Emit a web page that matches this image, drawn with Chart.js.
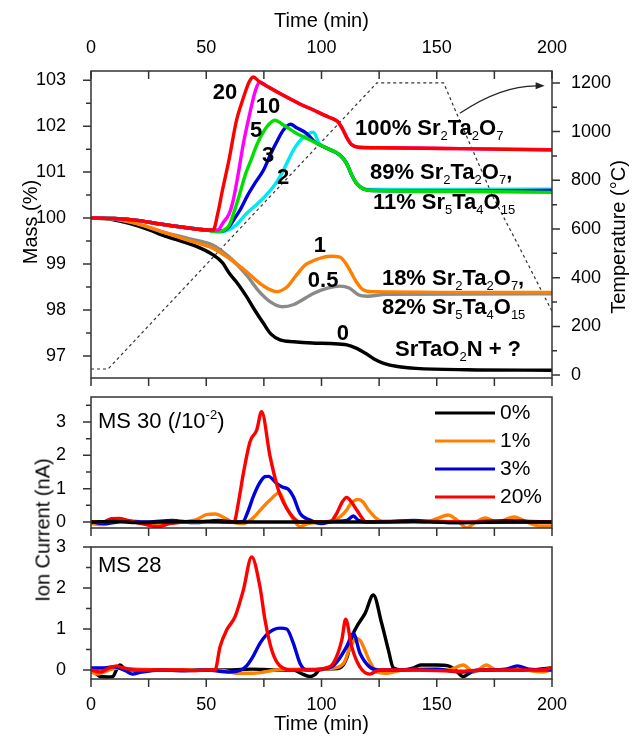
<!DOCTYPE html>
<html>
<head>
<meta charset="utf-8">
<script src="https://cdn.jsdelivr.net/npm/chart.js"></script>
<style>
body { margin: 0; background: #fff; }
#wrap { position: relative; width: 632px; height: 736px; font-family: "Liberation Sans", Arial, sans-serif; }
canvas { position: absolute; left: 0; }
#ion { position: absolute; left: 43px; top: 530px; transform: translate(-50%, -50%) rotate(-90deg); font-size: 20px; white-space: nowrap; }
</style>
</head>
<body>
<div id="wrap">
  <canvas id="c1" width="632" height="388" style="top:0"></canvas>
  <canvas id="c2" width="632" height="150" style="top:388px"></canvas>
  <canvas id="c3" width="632" height="198" style="top:538px"></canvas>
  <div id="ion">Ion Current (nA)</div>
</div>
<script>
const FONT = '"Liberation Sans", Arial, sans-serif';
Chart.defaults.font.family = FONT;
Chart.defaults.color = '#000';

// ---- TG mass curves, [time (min), mass (%)] ----
const mass20 = [[0,100],[10,99.99],[20,99.95],[30,99.87],[40,99.8],[50,99.74],[53,99.74],[55,100.1],[57,100.6],[60,101.3],[63,102.1],[66,102.6],[68.5,102.95],[70.4,103.07],[73,102.97],[77,102.85],[82,102.71],[90,102.5],[96.5,102.35],[103,102.2],[107,102.1],[109,101.95],[111,101.75],[113,101.6],[116,101.54],[125,101.53],[160,101.51],[200,101.48]];
const mass10 = [[0,100],[10,99.99],[20,99.95],[30,99.87],[40,99.8],[50,99.74],[55,99.74],[57.3,99.9],[60,100.1],[61.7,100.39],[64,101.0],[66.1,101.62],[69,102.3],[71.5,102.8],[73.3,102.96],[76,102.88],[82,102.71],[90,102.5],[96.5,102.35],[103,102.2],[107,102.1],[109,101.95],[111,101.75],[113,101.6],[116,101.54],[125,101.53],[160,101.51],[200,101.49]];
const mass5 = [[0,100],[10,99.99],[20,99.95],[30,99.87],[40,99.8],[50,99.74],[55,99.7],[57,99.72],[60,99.85],[62.5,100.2],[64.6,100.54],[67,100.95],[69.4,101.26],[72,101.6],[76.2,101.98],[79.8,102.13],[83,102.04],[89.2,101.84],[95,101.7],[101,101.55],[108,101.37],[110.9,101.19],[113,100.95],[115.3,100.75],[118,100.64],[122,100.6],[160,100.58],[200,100.56]];
const mass3 = [[0,100],[10,99.99],[20,99.95],[30,99.87],[40,99.8],[50,99.74],[57,99.72],[60,99.82],[62,99.97],[64.6,100.17],[68,100.5],[71,100.75],[74.8,101.04],[78,101.4],[81,101.7],[83.4,101.91],[86.6,102.04],[89,101.97],[93.6,101.84],[97,101.66],[101,101.55],[108,101.37],[110.9,101.19],[113,100.95],[115.3,100.75],[118,100.64],[122,100.6],[160,100.59],[200,100.6]];
const mass2 = [[0,100],[10,99.99],[20,99.95],[30,99.87],[40,99.8],[50,99.74],[57,99.7],[60,99.75],[63,99.85],[67.5,100.1],[72,100.3],[76,100.5],[79.1,100.68],[82,100.9],[85,101.2],[87.8,101.48],[91,101.7],[96.5,101.87],[99,101.62],[101,101.55],[108,101.37],[110.9,101.19],[113,100.95],[115.3,100.75],[118,100.65],[122,100.62],[160,100.62],[200,100.63]];
const mass1 = [[0,100],[10,99.98],[20,99.88],[31,99.7],[42,99.52],[53,99.34],[60,99.12],[67.5,98.83],[74,98.55],[80.5,98.4],[85,98.5],[89,98.75],[93,98.98],[99,99.12],[104,99.17],[108,99.15],[111,98.98],[115,98.62],[118,98.44],[122,98.4],[200,98.38]];
const mass05 = [[0,100],[10,99.98],[20,99.88],[31,99.7],[42,99.56],[53,99.41],[60,99.15],[67.5,98.76],[73,98.4],[78,98.17],[83,98.07],[88,98.12],[96.5,98.36],[103,98.48],[108,98.52],[112,98.48],[116,98.33],[120,98.3],[128,98.34],[200,98.35]];
const mass0 = [[0,100],[8,99.98],[17,99.88],[25,99.75],[31,99.63],[40,99.48],[46,99.38],[53,99.2],[57,99.03],[60,98.8],[64,98.55],[67.5,98.29],[71,98.0],[74.8,97.71],[78,97.48],[82,97.35],[88,97.31],[96,97.28],[104,97.27],[111,97.24],[115,97.17],[119,97.06],[123,96.93],[127,96.84],[133,96.77],[141,96.73],[163,96.7],[200,96.69]];
// temperature programme, [time (min), T (°C)]
const tempProfile = [[0,25],[7.4,25],[124,1200],[153,1200],[158.6,1075],[174.5,730],[185,540],[200,262]];

// ---- MS 30 (/10^-2), [time, nA] ----
const ms30_0 = [[0,0],[10,0.02],[20,-0.02],[30,0],[50,0.02],[60,0],[80,0],[100,0],[120,0],[140,0.01],[160,-0.02],[180,0],[200,0]];
const ms30_1 = [[0,-0.05],[5,-0.08],[12,0.05],[20,0.02],[30,-0.05],[40,0],[46,0.08],[50,0.22],[54,0.24],[58,0.12],[62,-0.02],[66,-0.05],[70,0.1],[74.8,0.46],[78,0.68],[81.7,0.88],[84.6,0.46],[88.2,0.03],[90.7,-0.14],[94,-0.05],[100,0],[105,0.05],[108,0.15],[110.9,0.36],[113,0.58],[116,0.68],[118,0.6],[120.4,0.36],[124.7,0.06],[128,0],[135,0.02],[145,0],[150,0.1],[155,0.21],[158,0.1],[163,-0.17],[167,0],[171,0.12],[176,0],[183.6,0.15],[189,0],[195,-0.12],[200,-0.12]];
const ms30_3 = [[0,0.02],[5,-0.05],[15,0.02],[25,0],[35,0.05],[45,-0.02],[55,0.05],[62,0],[66,0.02],[68,0.3],[70.4,0.76],[73,1.15],[75.5,1.36],[77,1.37],[80.5,1.16],[83,1.05],[85.6,0.98],[87.8,0.76],[90.7,0.26],[95,0.06],[100,-0.05],[105,0.02],[111,0.05],[113.8,0.18],[116,0.05],[120,0],[130,0.02],[140,0.05],[150,0],[160,-0.02],[170,0.02],[180,0.04],[190,0.02],[200,0]];
const ms30_20 = [[0,0],[5,0],[9,0.1],[12,0.11],[16,0.05],[22,-0.05],[29,-0.14],[34,-0.05],[40,0],[50,0],[58,0],[62,0],[64,0.6],[66.1,1.46],[69,2.41],[71.9,2.76],[74,3.31],[77.7,1.96],[81.3,0.96],[86.3,0.26],[90.7,0],[100,0],[104,0.02],[106.6,0.26],[109,0.6],[110.9,0.74],[113,0.6],[115.3,0.36],[119.6,0],[130,0],[150,0.02],[170,0],[200,0]];

// ---- MS 28, [time, nA] ----
const ms28_0 = [[0,0],[2,-0.08],[4,-0.16],[7,-0.17],[9.5,-0.16],[11,0],[12.6,0.12],[15,0.02],[20,0],[30,0],[40,0],[50,0],[60,0],[70,0.02],[80,0],[88,0],[91,-0.08],[95,-0.16],[97,-0.12],[99.2,0],[105,0.03],[108,0.05],[111,0.3],[113.5,0.85],[115.3,1.06],[118.9,1.38],[122.5,1.83],[126.1,1.14],[129,0.49],[131.2,0.05],[135,0],[140,0.05],[143,0.12],[150,0.12],[155,0.1],[158,0],[161.5,-0.16],[165,-0.05],[170,0],[180,0],[190,0],[200,0.05]];
const ms28_1 = [[0,-0.05],[3,-0.1],[8,0],[12,0.05],[20,0.02],[30,0],[40,0],[50,0],[58,-0.02],[63,-0.08],[70,-0.08],[75,-0.05],[80,0],[90,0.02],[100,0.02],[106,0.05],[110,0.2],[112,0.5],[115.3,0.77],[117,0.7],[121,0.2],[124,-0.05],[128,-0.08],[135,0],[145,0.02],[155,0],[161.5,0.12],[166,-0.05],[171.6,0.12],[176,0],[185,0.02],[196,-0.05],[200,0.02]];
const ms28_3 = [[0,0.05],[5,0.05],[10,0.08],[15,-0.02],[18,-0.1],[22,-0.05],[30,0],[40,-0.02],[50,0],[60,-0.05],[65,0],[67.5,0.1],[70,0.3],[73.3,0.65],[76,0.85],[79.1,0.98],[82,1.02],[84.9,1.0],[87.8,0.65],[90.7,0.16],[93.6,0],[100,0.02],[105,0.1],[108,0.3],[110.9,0.57],[113.8,0.89],[116.7,0.41],[121,0.07],[125,0],[135,0],[150,0.02],[160,-0.05],[170,0],[180,0.02],[185,0.1],[190,0.02],[200,0]];
const ms28_20 = [[0,0],[4,-0.05],[8,0.05],[11.1,0.1],[14,0.05],[20,0],[30,0],[40,0],[45,-0.02],[50,0],[53.8,0],[56,0.57],[58.9,0.98],[62.5,1.3],[66.1,1.95],[69.7,2.76],[73.3,2.03],[75.5,1.22],[78.4,0.49],[82,0.1],[87.8,0],[95,0],[102,0.05],[105.1,0.16],[108.8,0.73],[110.5,1.24],[113.1,0.57],[116.7,0.07],[121,-0.1],[125,0],[140,0],[160,-0.03],[170,0],[180,0],[195,0],[200,0.05]];

const pctLabels = ['0%', '1%', '3%', '20%'];
const pctColors = ['#000000', '#ff8000', '#0000dd', '#ff0000'];
const timeTicks = [0, 50, 100, 150, 200];
const massTicks = [97, 98, 99, 100, 101, 102, 103];
const tempTicks = [0, 200, 400, 600, 800, 1000, 1200];
const ms30Ticks = [0, 1, 2, 3];
const ms28Ticks = [0, 1, 2, 3];

const pts = arr => arr.map(([x, y]) => ({ x, y }));
const line = (arr, color, extra) => Object.assign({
  data: pts(arr), borderColor: color, borderWidth: 3.4, pointRadius: 0,
  cubicInterpolationMode: 'monotone', fill: false
}, extra || {});
const fixTicks = vals => s => { s.ticks = vals.map(v => ({ value: v })); };
const plain = v => String(v);
// fixed axis box sizes, no label overhang padding
const fitW = w => s => { s.width = w; s.paddingTop = 0; s.paddingBottom = 0; };
const fitH = h => s => { s.height = h; s.paddingLeft = 0; s.paddingRight = 0; };

function frame(chart) {
  const { ctx, chartArea: a } = chart;
  ctx.save();
  ctx.strokeStyle = '#333'; ctx.lineWidth = 1.5;
  ctx.strokeRect(a.left, a.top, a.right - a.left, a.bottom - a.top);
  ctx.restore();
}

function marks(chart, id, edge, step, majorStep, lo, hi, inward) {
  const s = chart.scales[id], a = chart.chartArea, ctx = chart.ctx;
  const d = inward ? -1 : 1;
  ctx.save();
  ctx.strokeStyle = '#333'; ctx.lineWidth = 1.5;
  ctx.beginPath();
  for (let v = lo; v <= hi + 1e-9; v += step) {
    const r = v / majorStep;
    const len = Math.abs(r - Math.round(r)) < 1e-6 ? 8 : 5;
    const p = s.getPixelForValue(v);
    if (edge === 'left') { ctx.moveTo(a.left, p); ctx.lineTo(a.left - d * len, p); }
    if (edge === 'right') { ctx.moveTo(a.right, p); ctx.lineTo(a.right + d * len, p); }
    if (edge === 'top') { ctx.moveTo(p, a.top); ctx.lineTo(p, a.top - d * len); }
    if (edge === 'bottom') { ctx.moveTo(p, a.bottom); ctx.lineTo(p, a.bottom + d * len); }
  }
  ctx.stroke();
  ctx.restore();
}

// parts: plain strings, '_x' subscript, '^x' superscript
function rich(ctx, parts, x, y, size, weight, align) {
  const fontFor = p => (p[0] === '_' || p[0] === '^')
    ? Math.round(size * 0.6) + 'px ' + FONT
    : weight + ' ' + size + 'px ' + FONT;
  const txt = p => (p[0] === '_' || p[0] === '^') ? p.slice(1) : p;
  let w = 0;
  for (const p of parts) { ctx.font = fontFor(p); w += ctx.measureText(txt(p)).width; }
  let cx = align === 'center' ? x - w / 2 : x;
  ctx.textAlign = 'left'; ctx.textBaseline = 'middle'; ctx.fillStyle = '#000';
  for (const p of parts) {
    ctx.font = fontFor(p);
    const dy = p[0] === '_' ? size * 0.34 : p[0] === '^' ? -size * 0.32 : 0;
    ctx.fillText(txt(p), cx, y + dy);
    cx += ctx.measureText(txt(p)).width;
  }
}

function titleText(ctx, text, x, y, rot, size) {
  ctx.save();
  ctx.translate(x, y); ctx.rotate(rot);
  ctx.font = (size || 20) + 'px ' + FONT;
  ctx.fillStyle = '#000'; ctx.textAlign = 'center'; ctx.textBaseline = 'middle';
  ctx.fillText(text, 0, 0);
  ctx.restore();
}

const tickFont = { size: 18 };

// ---------------- top panel ----------------
const massNotes = [
  { t: 58.1, m: 102.72, parts: ['20'], align: 'center' },
  { t: 76.8, m: 102.41, parts: ['10'], align: 'center' },
  { t: 71.6, m: 101.89, parts: ['5'], align: 'center' },
  { t: 76.8, m: 101.35, parts: ['3'], align: 'center' },
  { t: 83.3, m: 100.87, parts: ['2'], align: 'center' },
  { t: 99.3, m: 99.39, parts: ['1'], align: 'center' },
  { t: 100.7, m: 98.63, parts: ['0.5'], align: 'center' },
  { t: 109.3, m: 97.48, parts: ['0'], align: 'center' },
  { t: 114.5, m: 101.93, parts: ['100% Sr', '_2', 'Ta', '_2', 'O', '_7'], align: 'left' },
  { t: 121.0, m: 100.98, parts: ['89% Sr', '_2', 'Ta', '_2', 'O', '_7', ','], align: 'left' },
  { t: 122.3, m: 100.33, parts: ['11% Sr', '_5', 'Ta', '_4', 'O', '_15'], align: 'left' },
  { t: 126.2, m: 98.67, parts: ['18% Sr', '_2', 'Ta', '_2', 'O', '_7', ','], align: 'left' },
  { t: 126.2, m: 98.04, parts: ['82% Sr', '_5', 'Ta', '_4', 'O', '_15'], align: 'left' },
  { t: 131.9, m: 97.13, parts: ['SrTaO', '_2', 'N + ?'], align: 'left' }
];

new Chart(document.getElementById('c1'), {
  type: 'line',
  data: {
    datasets: [
      line(mass20, '#ff0000'),
      line(mass10, '#ff00ff'),
      line(mass5, '#00e000'),
      line(mass3, '#0000dd'),
      line(mass2, '#00e8f0'),
      line(mass1, '#ff8000'),
      line(mass05, '#8a8a8a'),
      line(mass0, '#000000'),
      line(tempProfile, '#333', { yAxisID: 'yT', borderWidth: 1.2, borderDash: [3, 3], cubicInterpolationMode: 'default', tension: 0 })
    ]
  },
  options: {
    responsive: false, animation: false,
    layout: { padding: 0 },
    plugins: { legend: { display: false }, tooltip: { enabled: false } },
    scales: {
      x: {
        type: 'linear', position: 'top', min: 0, max: 200,
        grid: { display: false }, border: { display: false },
        ticks: { padding: 4, font: tickFont, maxRotation: 0, callback: plain },
        afterBuildTicks: fixTicks(timeTicks), afterFit: fitH(71)
      },
      xb: {
        type: 'linear', position: 'bottom', min: 0, max: 200,
        grid: { display: false }, border: { display: false }, ticks: { display: false },
        afterFit: fitH(10)
      },
      y: {
        position: 'left', min: 96.52, max: 103.2,
        grid: { display: false }, border: { display: false },
        ticks: { padding: 17, font: tickFont, callback: plain },
        afterBuildTicks: fixTicks(massTicks), afterFit: fitW(91)
      },
      yT: {
        position: 'right', min: -12, max: 1249,
        grid: { display: false }, border: { display: false },
        ticks: { padding: 11, font: tickFont, callback: plain },
        afterBuildTicks: fixTicks(tempTicks), afterFit: fitW(80)
      }
    }
  },
  plugins: [{
    id: 'topDeco',
    afterDraw(chart) {
      const ctx = chart.ctx, xs = chart.scales.x, ys = chart.scales.y, ts = chart.scales.yT, a = chart.chartArea;
      frame(chart);
      marks(chart, 'x', 'top', 25, 25, 0, 200, true);
      marks(chart, 'x', 'bottom', 25, 25, 0, 200, false);
      marks(chart, 'y', 'left', 0.5, 1, 97, 103, false);
      marks(chart, 'yT', 'right', 100, 200, 0, 1200, false);
      for (const n of massNotes) {
        rich(ctx, n.parts, xs.getPixelForValue(n.t), ys.getPixelForValue(n.m), 22, 'bold', n.align);
      }
      // curved arrow pointing to the temperature axis
      const x0 = xs.getPixelForValue(160), y0 = ts.getPixelForValue(1075);
      const xc = xs.getPixelForValue(178), yc = ts.getPixelForValue(1190);
      const x1 = xs.getPixelForValue(195.5), y1 = ts.getPixelForValue(1188);
      ctx.save();
      ctx.strokeStyle = '#222'; ctx.fillStyle = '#222'; ctx.lineWidth = 1.2;
      ctx.beginPath(); ctx.moveTo(x0, y0); ctx.quadraticCurveTo(xc, yc, x1 - 4, y1); ctx.stroke();
      ctx.beginPath(); ctx.moveTo(x1 + 3, y1); ctx.lineTo(x1 - 6, y1 - 3.5); ctx.lineTo(x1 - 6, y1 + 3.5); ctx.closePath(); ctx.fill();
      ctx.restore();
      titleText(ctx, 'Time (min)', (a.left + a.right) / 2, 21, 0);
      titleText(ctx, 'Mass (%)', 31, 222, -Math.PI / 2);
      titleText(ctx, 'Temperature (°C)', 619, 237, -Math.PI / 2);
    }
  }]
});

// ---------------- MS panels ----------------
function msChart(id, sets, yMin, yMax, yTicks, tickTop, xHeight, deco) {
  return new Chart(document.getElementById(id), {
    type: 'line',
    data: { datasets: sets },
    options: {
      responsive: false, animation: false,
      layout: { padding: { top: 9, right: 80, left: 0, bottom: 0 } },
      plugins: { legend: { display: false }, tooltip: { enabled: false } },
      scales: {
        x: {
          type: 'linear', position: 'bottom', min: 0, max: 200,
          grid: { display: false }, border: { display: false },
          ticks: { display: xHeight > 20, padding: 7, font: tickFont, maxRotation: 0, callback: plain },
          afterBuildTicks: fixTicks(timeTicks), afterFit: fitH(xHeight)
        },
        y: {
          position: 'left', min: yMin, max: yMax,
          grid: { display: false }, border: { display: false },
          ticks: { padding: 17, font: tickFont, callback: plain },
          afterBuildTicks: fixTicks(yTicks), afterFit: fitW(91)
        }
      }
    },
    plugins: [{
      id: id + 'Deco',
      afterDraw(chart) {
        frame(chart);
        marks(chart, 'x', 'bottom', 25, 25, 0, 200, false);
        marks(chart, 'y', 'left', 0.5, 1, 0, tickTop, false);
        deco(chart);
      }
    }]
  });
}

msChart('c2', [
  line(ms30_0, pctColors[0], { label: pctLabels[0] }),
  line(ms30_20, pctColors[3], { label: pctLabels[3] }),
  line(ms30_3, pctColors[2], { label: pctLabels[2] }),
  line(ms30_1, pctColors[1], { label: pctLabels[1] })
], -0.18, 3.75, ms30Ticks, 3.5, 10, chart => {
  const ctx = chart.ctx, a = chart.chartArea;
  rich(ctx, ['MS 30 (/10', '^-2', ')'], a.left + 7, a.top + 25, 22, 'normal', 'left');
  pctLabels.forEach((lab, i) => {
    const y = a.top + 16 + i * 28;
    ctx.save();
    ctx.strokeStyle = pctColors[i]; ctx.lineWidth = 3;
    ctx.beginPath(); ctx.moveTo(a.right - 117, y); ctx.lineTo(a.right - 57, y); ctx.stroke();
    ctx.restore();
    rich(ctx, [lab], a.right - 52, y, 21, 'normal', 'left');
  });
});

msChart('c3', [
  line(ms28_20, pctColors[3]),
  line(ms28_3, pctColors[2]),
  line(ms28_1, pctColors[1]),
  line(ms28_0, pctColors[0])
], -0.22, 3.0, ms28Ticks, 3, 57, chart => {
  const ctx = chart.ctx, a = chart.chartArea;
  rich(ctx, ['MS 28'], a.left + 7, a.top + 19, 22, 'normal', 'left');
  titleText(ctx, 'Time (min)', (a.left + a.right) / 2, 186, 0);
});
</script>
</body>
</html>
